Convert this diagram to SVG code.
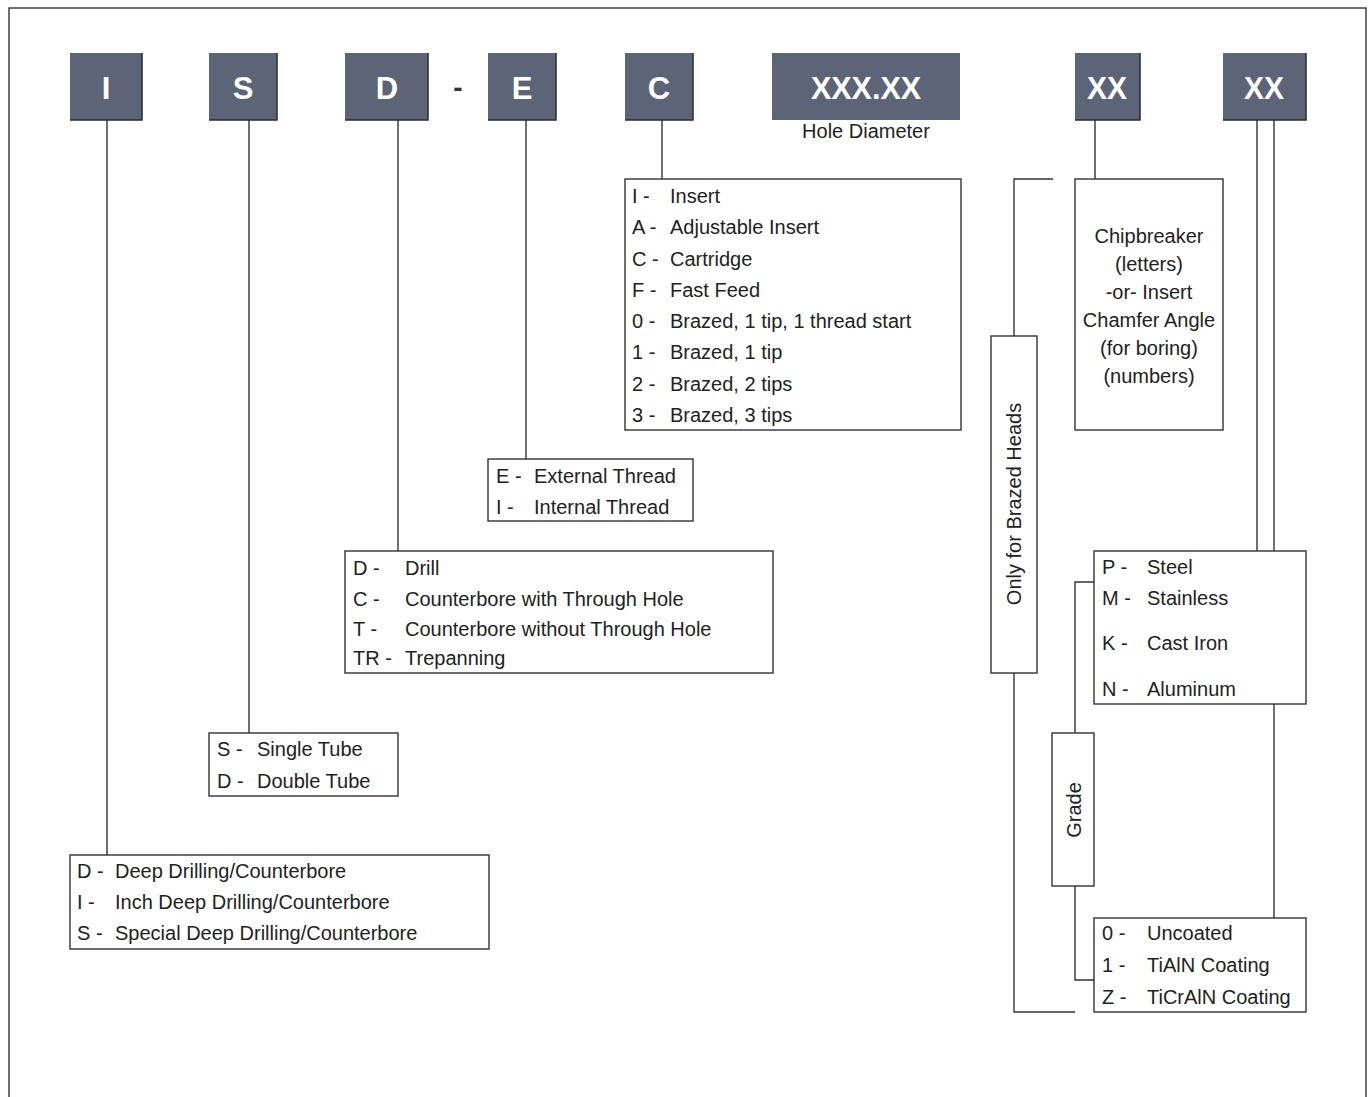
<svg xmlns="http://www.w3.org/2000/svg" width="1371" height="1097" viewBox="0 0 1371 1097">
<style>
.hdr{fill:#5c6578}
.hdrEdge{fill:none;stroke:#262b33;stroke-width:1.5}
.hdrT{font-family:"Liberation Sans",Arial,sans-serif;font-weight:bold;font-size:31px;fill:#ffffff;text-anchor:middle}
.box{fill:#ffffff;stroke:#333333;stroke-width:1.4}
.t{font-family:"Liberation Sans",Arial,sans-serif;font-size:20px;fill:#222222}
.c{text-anchor:middle}
.ln{fill:none;stroke:#333333;stroke-width:1.4}
</style>
<rect x="0" y="0" width="1371" height="1097" fill="#ffffff"/>
<rect x="9" y="8" width="1357" height="1110" fill="none" stroke="#333333" stroke-width="1.4"/>

<g id="connectors">
  <line class="ln" x1="107" y1="120" x2="107" y2="855"/>
  <line class="ln" x1="249" y1="120" x2="249" y2="733"/>
  <line class="ln" x1="398" y1="120" x2="398" y2="551"/>
  <line class="ln" x1="526" y1="120" x2="526" y2="459"/>
  <line class="ln" x1="662" y1="120" x2="662" y2="179"/>
  <line class="ln" x1="1095" y1="120" x2="1095" y2="179"/>
  <line class="ln" x1="1257" y1="120" x2="1257" y2="551"/>
  <line class="ln" x1="1274" y1="120" x2="1274" y2="918"/>
  <polyline class="ln" points="1053,179 1014,179 1014,336"/>
  <polyline class="ln" points="1014,673 1014,1012 1075,1012"/>
  <polyline class="ln" points="1094,582 1075,582 1075,733"/>
  <polyline class="ln" points="1075,886 1075,980 1094,980"/>
</g>

<g id="hdr-I">
  <rect class="hdr" x="70" y="53" width="72" height="67"/>
  <polyline class="hdrEdge" points="142,53 142,120 70,120"/>
  <text class="hdrT" x="106" y="99">I</text>
</g>
<g id="hdr-S">
  <rect class="hdr" x="209" y="53" width="68" height="67"/>
  <polyline class="hdrEdge" points="277,53 277,120 209,120"/>
  <text class="hdrT" x="243" y="99">S</text>
</g>
<g id="hdr-D">
  <rect class="hdr" x="345" y="53" width="83" height="67"/>
  <polyline class="hdrEdge" points="428,53 428,120 345,120"/>
  <text class="hdrT" x="387" y="99">D</text>
</g>
<g id="hdr-dash">
  <text class="hdrT" x="458" y="97" style="fill:#333333;font-size:28px">-</text>
</g>
<g id="hdr-E">
  <rect class="hdr" x="488" y="53" width="68" height="67"/>
  <polyline class="hdrEdge" points="556,53 556,120 488,120"/>
  <text class="hdrT" x="522" y="99">E</text>
</g>
<g id="hdr-C">
  <rect class="hdr" x="625" y="53" width="68" height="67"/>
  <polyline class="hdrEdge" points="693,53 693,120 625,120"/>
  <text class="hdrT" x="659" y="99">C</text>
</g>
<g id="hdr-XXX">
  <rect class="hdr" x="772" y="53" width="188" height="67"/>
  <text class="hdrT" x="866" y="99" textLength="110" lengthAdjust="spacingAndGlyphs">XXX.XX</text>
  <text class="t c" x="866" y="138">Hole Diameter</text>
</g>
<g id="hdr-XX1">
  <rect class="hdr" x="1075" y="53" width="65" height="67"/>
  <polyline class="hdrEdge" points="1140,53 1140,120 1075,120"/>
  <text class="hdrT" x="1107" y="99" textLength="40" lengthAdjust="spacingAndGlyphs">XX</text>
</g>
<g id="hdr-XX2">
  <rect class="hdr" x="1223" y="53" width="83" height="67"/>
  <polyline class="hdrEdge" points="1306,53 1306,120 1223,120"/>
  <text class="hdrT" x="1264" y="99" textLength="40" lengthAdjust="spacingAndGlyphs">XX</text>
</g>

<g id="box-C">
  <rect class="box" x="625" y="179" width="336" height="251"/>
  <text class="t" x="632" y="203">I -</text><text class="t" x="670" y="203">Insert</text>
  <text class="t" x="632" y="234">A -</text><text class="t" x="670" y="234">Adjustable Insert</text>
  <text class="t" x="632" y="266">C -</text><text class="t" x="670" y="266">Cartridge</text>
  <text class="t" x="632" y="297">F -</text><text class="t" x="670" y="297">Fast Feed</text>
  <text class="t" x="632" y="328">0 -</text><text class="t" x="670" y="328">Brazed, 1 tip, 1 thread start</text>
  <text class="t" x="632" y="359">1 -</text><text class="t" x="670" y="359">Brazed, 1 tip</text>
  <text class="t" x="632" y="391">2 -</text><text class="t" x="670" y="391">Brazed, 2 tips</text>
  <text class="t" x="632" y="422">3 -</text><text class="t" x="670" y="422">Brazed, 3 tips</text>
</g>

<g id="box-E">
  <rect class="box" x="488" y="459" width="205" height="62"/>
  <text class="t" x="496" y="483">E -</text><text class="t" x="534" y="483">External Thread</text>
  <text class="t" x="496" y="514">I -</text><text class="t" x="534" y="514">Internal Thread</text>
</g>

<g id="box-D">
  <rect class="box" x="345" y="551" width="428" height="122"/>
  <text class="t" x="353" y="575">D -</text><text class="t" x="405" y="575">Drill</text>
  <text class="t" x="353" y="606">C -</text><text class="t" x="405" y="606">Counterbore with Through Hole</text>
  <text class="t" x="353" y="636">T -</text><text class="t" x="405" y="636">Counterbore without Through Hole</text>
  <text class="t" x="353" y="665">TR -</text><text class="t" x="405" y="665">Trepanning</text>
</g>

<g id="box-S">
  <rect class="box" x="209" y="733" width="189" height="63"/>
  <text class="t" x="217" y="756">S -</text><text class="t" x="257" y="756">Single Tube</text>
  <text class="t" x="217" y="788">D -</text><text class="t" x="257" y="788">Double Tube</text>
</g>

<g id="box-I">
  <rect class="box" x="70" y="855" width="419" height="94"/>
  <text class="t" x="77" y="878">D -</text><text class="t" x="115" y="878">Deep Drilling/Counterbore</text>
  <text class="t" x="77" y="909">I -</text><text class="t" x="115" y="909">Inch Deep Drilling/Counterbore</text>
  <text class="t" x="77" y="940">S -</text><text class="t" x="115" y="940">Special Deep Drilling/Counterbore</text>
</g>

<g id="box-chip">
  <rect class="box" x="1075" y="179" width="148" height="251"/>
  <text class="t c" x="1149" y="243">Chipbreaker</text>
  <text class="t c" x="1149" y="271">(letters)</text>
  <text class="t c" x="1149" y="299">-or- Insert</text>
  <text class="t c" x="1149" y="327">Chamfer Angle</text>
  <text class="t c" x="1149" y="355">(for boring)</text>
  <text class="t c" x="1149" y="383">(numbers)</text>
</g>

<g id="box-brazed">
  <rect class="box" x="991" y="336" width="46" height="337"/>
  <text class="t c" transform="translate(1021,504) rotate(-90)" x="0" y="0">Only for Brazed Heads</text>
</g>

<g id="box-material">
  <rect class="box" x="1094" y="551" width="212" height="153"/>
  <text class="t" x="1102" y="574">P -</text><text class="t" x="1147" y="574">Steel</text>
  <text class="t" x="1102" y="605">M -</text><text class="t" x="1147" y="605">Stainless</text>
  <text class="t" x="1102" y="650">K -</text><text class="t" x="1147" y="650">Cast Iron</text>
  <text class="t" x="1102" y="696">N -</text><text class="t" x="1147" y="696">Aluminum</text>
</g>

<g id="box-grade">
  <rect class="box" x="1052" y="733" width="42" height="153"/>
  <text class="t c" transform="translate(1081,810) rotate(-90)" x="0" y="0">Grade</text>
</g>

<g id="box-coating">
  <rect class="box" x="1094" y="918" width="212" height="94"/>
  <text class="t" x="1102" y="940">0 -</text><text class="t" x="1147" y="940">Uncoated</text>
  <text class="t" x="1102" y="972">1 -</text><text class="t" x="1147" y="972">TiAlN Coating</text>
  <text class="t" x="1102" y="1004">Z -</text><text class="t" x="1147" y="1004">TiCrAlN Coating</text>
</g>
</svg>
